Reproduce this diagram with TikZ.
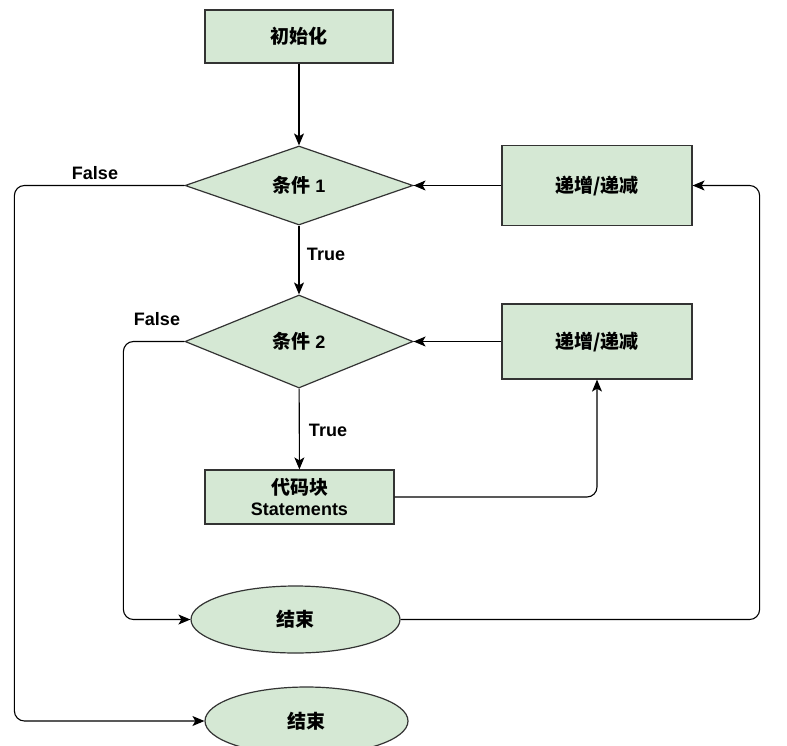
\documentclass[tikz,border=0pt]{standalone}
\usepackage{fontspec}
\setmainfont{Liberation Sans}
\newfontfamily\cjk{Noto Sans CJK SC}
\usetikzlibrary{shapes.geometric,arrows.meta,calc}
\definecolor{boxfill}{HTML}{D5E8D4}
\definecolor{boxline}{HTML}{333333}
\tikzset{
  procbox/.style={rectangle, draw=boxline, fill=boxfill, line width=1.2pt, inner sep=0pt, align=center, font=\fontsize{18}{20}\selectfont\bfseries},
  decbox/.style={diamond, draw=boxline, fill=boxfill, line width=1.2pt, inner sep=0pt, font=\fontsize{18}{20}\selectfont\bfseries},
  endbox/.style={ellipse, draw=boxline, fill=boxfill, line width=1.2pt, inner sep=0pt, font=\fontsize{18}{20}\selectfont\bfseries},
  arr/.style={draw=black, line width=1.1pt, -{Stealth[length=12pt,width=10pt,inset=3pt]}, rounded corners=10pt},
  lbl/.style={inner sep=0pt, font=\fontsize{18}{20}\selectfont\bfseries}
}
\newcommand{\zh}[1]{{\cjk\fontsize{19}{20}\selectfont #1}}
\begin{document}
\begin{tikzpicture}[x=1pt,y=-1pt]
\useasboundingbox (0,0) rectangle (787,745);
\clip (0,0) rectangle (787,745);
\node[procbox, minimum width=188pt, minimum height=53pt] (init) at (299,36.5) {\zh{初始化}};
\node[decbox, minimum width=228pt, minimum height=79pt] (d1) at (299,185.5) {\zh{条件} 1};
\node[procbox, minimum width=190pt, minimum height=80pt] (inc1) at (597,185.5) {\zh{递增/递减}};
\node[decbox, minimum width=228pt, minimum height=93pt] (d2) at (299,341.5) {\zh{条件} 2};
\node[procbox, minimum width=190pt, minimum height=75pt] (inc2) at (597,341.5) {\zh{递增/递减}};
\node[procbox, minimum width=189pt, minimum height=54pt] (code) at (299.5,497) {\zh{代码块}\\[1pt]Statements};
\node[endbox, minimum width=209pt, minimum height=67pt] (end1) at (295.5,619.5) {\zh{结束}};
\node[endbox, minimum width=203pt, minimum height=68pt] (end2) at (306.5,721) {\zh{结束}};

\draw[arr] (init) -- (d1);
\draw[arr] (d1.west) -- ++(-170,0) |- (end2.west);
\node[lbl] (f1) at (95,173) {False};
\draw[arr] (d1) -- (d2);
\node[lbl] (t1) at (326,254) {True};
\draw[arr] (inc1) -- (d1.east);
\draw[arr] (end1.east) -- ++(359,0) |- (inc1.east);
\draw[arr] (d2.west) -- ++(-61,0) |- (end1.west);
\node[lbl] (f2) at (157,319) {False};
\draw[arr] (d2) -- (code);
\node[lbl] (t2) at (328,430) {True};
\draw[arr] (inc2) -- (d2.east);
\draw[arr] (code.east) -| (inc2.south);
\end{tikzpicture}
\end{document}
